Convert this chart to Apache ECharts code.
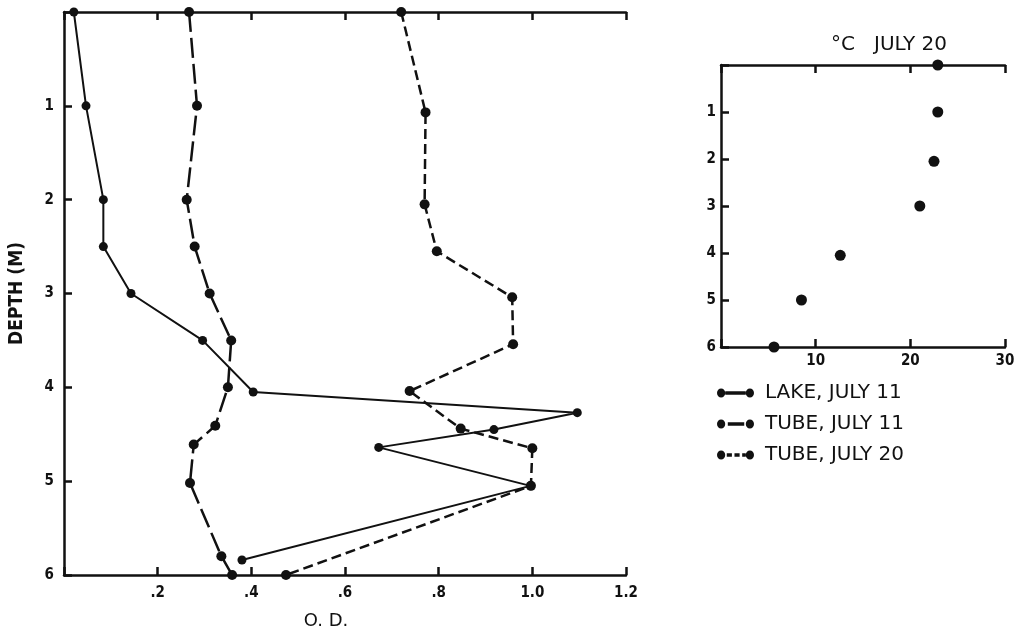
<!DOCTYPE html>
<html>
<head>
<meta charset="utf-8">
<script src="https://cdn.jsdelivr.net/npm/echarts@6/dist/echarts.min.js"></script>
<style>
html,body{margin:0;padding:0;background:#fff;}
#chart{width:1018px;height:635px;}
</style>
</head>
<body>
<div id="chart"></div>
<script>
// ---- data ----
const seriesNames = ['LAKE, JULY 11', 'TUBE, JULY 11', 'TUBE, JULY 20'];

const lakeDepth = [0, 1, 2, 2.5, 3, 3.5, 4.05, 4.27, 4.45, 4.64, 5.05, 5.84];
const lakeOD    = [0.021, 0.047, 0.084, 0.084, 0.143, 0.296, 0.404, 1.096, 0.918, 0.672, 0.996, 0.380];

const tube11Depth = [0, 1, 2, 2.5, 3, 3.5, 4, 4.41, 4.61, 5.02, 5.8, 6];
const tube11OD    = [0.267, 0.284, 0.262, 0.279, 0.311, 0.357, 0.350, 0.323, 0.277, 0.269, 0.336, 0.359];

const tube20Depth = [0, 1.07, 2.05, 2.55, 3.04, 3.54, 4.04, 4.44, 4.65, 5.05, 6];
const tube20OD    = [0.720, 0.772, 0.770, 0.796, 0.957, 0.959, 0.738, 0.847, 1.0, 0.997, 0.474];

const tempDepth = [0, 1, 2.05, 3, 4.05, 5, 6];
const tempC     = [22.9, 22.9, 22.5, 21.0, 12.6, 8.5, 5.6];

const odTickLabels    = ['', '.2', '.4', '.6', '.8', '1.0', '1.2'];
const depthTickLabels = ['', '1', '2', '3', '4', '5', '6'];
const tempTickLabels  = ['', '10', '20', '30'];

// ---- chart ----
const pairs = (xs, ys) => xs.map((x, i) => [x, ys[i]]);
const INK = '#111';
const CONDENSED = "'DejaVu Sans Condensed', 'Liberation Sans', sans-serif";
const numFont = {fontFamily: CONDENSED, fontWeight: 'bold', fontSize: 15, color: INK};

function axisCommon(extra) {
  return Object.assign({
    type: 'value',
    splitLine: {show: false},
    axisLine: {show: true, onZero: false, lineStyle: {color: INK, width: 2.5}},
    axisTick: {show: true, inside: true, length: 8, lineStyle: {color: INK, width: 2.5}},
  }, extra);
}

const chart = echarts.init(document.getElementById('chart'), null, {renderer: 'canvas'});

// legend icons: dot - line - dot, box 0..36 x 1..9
const circle = (cx) => `M${cx-4},5a4,4 0 1,0 8,0a4,4 0 1,0 -8,0Z`;
const iconSolid = 'path://' + circle(4) + circle(32) + 'M8,3.5H28V6.5H8Z';
const iconLong  = 'path://' + circle(4) + circle(32) + 'M10.5,3.5H26.5V6.5H10.5Z';
const iconShort = 'path://' + circle(4) + circle(32) + 'M9.5,3.5H14.5V6.5H9.5ZM17,3.5H22V6.5H17ZM24.5,3.5H28V6.5H24.5Z';

chart.setOption({
  backgroundColor: '#fff',
  animation: false,
  title: {
    text: '°C   JULY 20',
    left: 884, top: 30, textAlign: 'center',
    textStyle: {fontFamily: 'DejaVu Sans', fontWeight: 'normal', fontSize: 20, color: INK}
  },
  legend: {
    orient: 'vertical',
    left: 717, top: 383, padding: 0,
    itemWidth: 37, itemHeight: 9,
    itemGap: 11,
    symbolKeepAspect: false,
    textStyle: {fontFamily: 'DejaVu Sans', fontSize: 20, lineHeight: 20, color: INK, padding: [0, 0, 0, 6]},
    data: [
      {name: seriesNames[0], icon: iconSolid, itemStyle: {color: INK}},
      {name: seriesNames[1], icon: iconLong, itemStyle: {color: INK}},
      {name: seriesNames[2], icon: iconShort, itemStyle: {color: INK}}
    ]
  },
  grid: [
    {left: 63, top: 12, width: 563, height: 566},
    {left: 721, top: 65, width: 284, height: 282}
  ],
  xAxis: [
    axisCommon({
      gridIndex: 0, position: 'bottom', min: 0, max: 1.2, interval: 0.2,
      name: 'O. D.', nameLocation: 'middle', nameGap: 37,
      nameTextStyle: {fontFamily: 'DejaVu Sans', fontSize: 18, color: INK, padding: [0, 38, 0, 0]},
      axisLabel: Object.assign({margin: 11, formatter: (v) => odTickLabels[Math.round(v / 0.2)]}, numFont)
    }),
    axisCommon({
      gridIndex: 0, position: 'top', min: 0, max: 1.2, interval: 0.2,
      axisLabel: {show: false}
    }),
    axisCommon({
      gridIndex: 1, position: 'bottom', min: 0, max: 30, interval: 10,
      axisLabel: Object.assign({margin: 7, formatter: (v) => tempTickLabels[Math.round(v / 10)]}, numFont)
    }),
    axisCommon({
      gridIndex: 1, position: 'top', min: 0, max: 30, interval: 10,
      axisLabel: {show: false}
    })
  ],
  yAxis: [
    axisCommon({
      gridIndex: 0, min: 0, max: 6, interval: 1, inverse: true,
      name: 'DEPTH (M)', nameLocation: 'middle', nameGap: 37, nameRotate: 90,
      nameTextStyle: {fontFamily: CONDENSED, fontWeight: 'bold', fontSize: 19, color: INK},
      axisLabel: Object.assign({margin: 10, formatter: (v) => depthTickLabels[Math.round(v)]}, numFont)
    }),
    axisCommon({
      gridIndex: 1, min: 0, max: 6, interval: 1, inverse: true,
      axisLabel: Object.assign({margin: 5, formatter: (v) => depthTickLabels[Math.round(v)]}, numFont)
    })
  ],
  series: [
    {
      name: seriesNames[0], type: 'line', xAxisIndex: 0, yAxisIndex: 0,
      data: pairs(lakeOD, lakeDepth), clip: false,
      symbol: 'circle', symbolSize: 9,
      itemStyle: {color: INK, opacity: 1},
      lineStyle: {color: INK, width: 2, type: 'solid'}
    },
    {
      name: seriesNames[1], type: 'line', xAxisIndex: 0, yAxisIndex: 0,
      data: pairs(tube11OD, tube11Depth), clip: false,
      symbol: 'circle', symbolSize: 10,
      itemStyle: {color: INK, opacity: 1},
      lineStyle: {color: INK, width: 2.5, type: [20, 6]}
    },
    {
      name: seriesNames[2], type: 'line', xAxisIndex: 0, yAxisIndex: 0,
      data: pairs(tube20OD, tube20Depth), clip: false,
      symbol: 'circle', symbolSize: 10,
      itemStyle: {color: INK, opacity: 1},
      lineStyle: {color: INK, width: 2.5, type: [10, 5]}
    },
    {
      name: 'Temperature', type: 'scatter', xAxisIndex: 2, yAxisIndex: 1,
      data: pairs(tempC, tempDepth), clip: false,
      symbol: 'circle', symbolSize: 11,
      itemStyle: {color: INK, opacity: 1}
    }
  ]
});
</script>
</body>
</html>
